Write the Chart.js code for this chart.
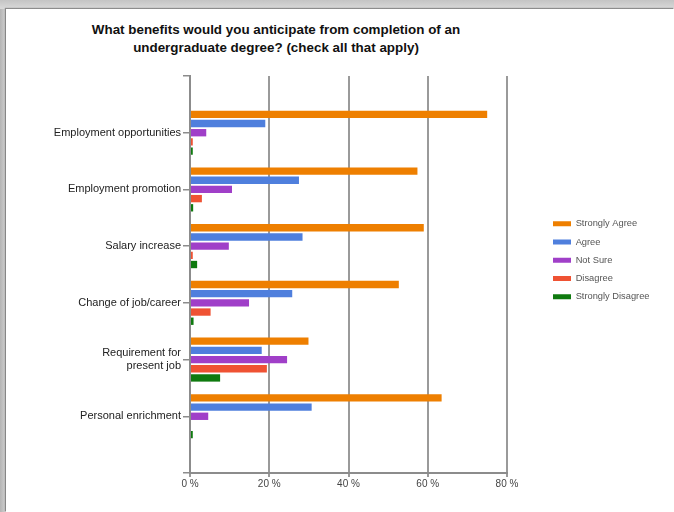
<!DOCTYPE html>
<html>
<head>
<meta charset="utf-8">
<script src="https://cdn.jsdelivr.net/npm/chart.js@4"></script>
<style>
html,body{margin:0;padding:0;width:674px;height:512px;overflow:hidden;}
body{background:linear-gradient(90deg,#b4b4b4 0px,#d2d2d2 6px,#d4d4d4 100%);position:relative;}
#topbar{position:absolute;left:0;top:0;width:674px;height:9px;background:linear-gradient(#c4c4c4,#dadada);}
#panel{position:absolute;left:6px;top:9px;width:668px;height:503px;background:#fff;box-shadow:-1px -1px 1px rgba(0,0,0,0.35);}
#title{position:absolute;left:0;width:552px;top:21px;text-align:center;font:bold 13.4px "Liberation Sans",Arial,sans-serif;line-height:18px;color:#111;}
#wrap{position:absolute;left:0;top:0;width:674px;height:512px;}
</style>
</head>
<body>
<div id="topbar"></div>
<div id="panel"></div>
<div id="title">What benefits would you anticipate from completion of an<br>undergraduate degree? (check all that apply)</div>
<div id="wrap"><canvas id="c" width="674" height="512"></canvas></div>
<script>
const categories = ['Employment opportunities', 'Employment promotion', 'Salary increase', 'Change of job/career', ['Requirement for', 'present job'], 'Personal enrichment'];
const seriesNames = ['Strongly Agree', 'Agree', 'Not Sure', 'Disagree', 'Strongly Disagree'];
const stronglyAgree = [75, 57.4, 59, 52.7, 29.9, 63.5];
const agree = [19, 27.5, 28.4, 25.8, 18.1, 30.7];
const notSure = [4.1, 10.6, 9.8, 14.9, 24.5, 4.6];
const disagree = [0.7, 3, 0.7, 5.2, 19.4, 0];
const stronglyDisagree = [0.7, 0.8, 1.8, 0.9, 7.6, 0.7];
const xTickValues = [0, 20, 40, 60, 80];
const seriesColors = ['#EE7F00', '#4F7FDD', '#A03FC8', '#EF5233', '#0F7A0F'];

const allSeries = [stronglyAgree, agree, notSure, disagree, stronglyDisagree];
// blank slots above and below the six categories leave the half-band margins of the original
const labels = [''].concat(categories, ['']);

const datasets = allSeries.map((vals, i) => ({
  label: seriesNames[i],
  data: [null].concat(vals, [null]),
  backgroundColor: seriesColors[i],
  borderWidth: 0,
  categoryPercentage: 0.81,
  barPercentage: 0.8
}));

const legendPlacer = {
  id: 'legendPlacer',
  afterLayout(chart) {
    const lg = chart.legend;
    if (!lg) return;
    const w = lg.width, h = lg.height;
    lg.left = 544; lg.top = 210; lg.right = 544 + w; lg.bottom = 210 + h;
  }
};

new Chart(document.getElementById('c'), {
  type: 'bar',
  data: { labels: labels, datasets: datasets },
  plugins: [legendPlacer],
  options: {
    indexAxis: 'y',
    responsive: false,
    animation: false,
    devicePixelRatio: 1,
    layout: { padding: { left: 0, top: 76, right: 167, bottom: 14 } },
    plugins: {
      title: { display: false },
      tooltip: { enabled: false },
      legend: {
        position: 'chartArea',
        align: 'start',
        labels: {
          boxWidth: 18,
          boxHeight: 5,
          padding: 9,
          color: '#555',
          font: { family: '"Liberation Sans", Arial, sans-serif', size: 9.3 }
        }
      }
    },
    scales: {
      x: {
        type: 'linear',
        position: 'bottom',
        min: 0,
        max: 80,
        afterBuildTicks(scale) { scale.ticks = xTickValues.map(v => ({ value: v })); },
        afterFit(scale) { scale.height = 25; },
        ticks: {
          callback: v => v + ' %',
          color: '#444',
          padding: 1,
          font: { family: '"Liberation Sans", Arial, sans-serif', size: 10 }
        },
        grid: { color: '#9a9a9a', lineWidth: 2, drawTicks: true, tickLength: 4 },
        border: { display: true, color: '#8c8c8c', width: 2 }
      },
      y: {
        type: 'category',
        offset: false,
        afterFit(scale) { scale.width = 190; },
        ticks: {
          autoSkip: false,
          color: '#222',
          padding: 2,
          font: { family: '"Liberation Sans", Arial, sans-serif', size: 11 }
        },
        grid: { offset: false, drawOnChartArea: false, drawTicks: true, tickLength: 7, color: '#8c8c8c', lineWidth: 1.5 },
        border: { display: true, color: '#8c8c8c', width: 2 }
      }
    }
  }
});
</script>
</body>
</html>
